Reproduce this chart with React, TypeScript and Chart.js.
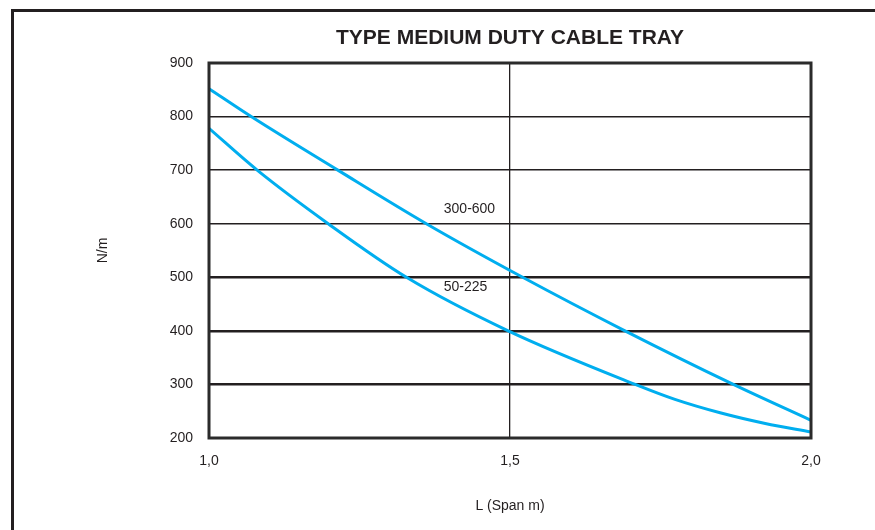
import React, { useEffect, useRef } from "react";
import { Chart, registerables } from "chart.js";

Chart.register(...registerables);

const chartTitle = "TYPE MEDIUM DUTY CABLE TRAY";
const xAxisTitle = "L (Span m)";
const yAxisTitle = "N/m";

const seriesNames = ["300-600", "50-225"];
const spanUpper = [1.0, 1.07, 1.214, 1.361, 1.521, 1.691, 1.871, 2.0];
const loadUpper = [852, 800, 700, 600, 500, 400, 300, 233];
const spanLower = [1.0, 1.08, 1.198, 1.328, 1.497, 1.708, 1.774, 1.849, 1.924, 2.0];
const loadLower = [778, 700, 600, 500, 400, 300, 272, 247, 227, 211];

// label anchor points (data coordinates)
const labelSpans = [1.39, 1.39];
const labelLoads = [627, 481];

const yMin = 200;
const yMax = 900;
const yStep = 100;
const xMin = 1.0;
const xMax = 2.0;
const xStep = 0.5;

const CYAN = "#00aeef";
const INK = "#231f20";
const FONT = "'Liberation Sans', Arial, sans-serif";

export default function App() {
  const ref = useRef<HTMLCanvasElement | null>(null);

  useEffect(() => {
    const canvas = ref.current;
    if (!canvas) return;

    const overlay = {
      id: "overlay",
      afterDatasetsDraw(chart: any) {
        const { ctx, chartArea: a, scales } = chart;
        ctx.save();
        ctx.strokeStyle = "#2b2b2b";
        ctx.lineWidth = 3;
        ctx.strokeRect(a.left, a.top, a.right - a.left, a.bottom - a.top);
        ctx.fillStyle = INK;
        ctx.font = `14px ${FONT}`;
        ctx.textAlign = "left";
        ctx.textBaseline = "middle";
        seriesNames.forEach((name, i) => {
          const x = scales.x.getPixelForValue(labelSpans[i]);
          const y = scales.y.getPixelForValue(labelLoads[i]);
          ctx.fillText(name, x, y);
        });
        ctx.font = `bold 21px ${FONT}`;
        ctx.textAlign = "center";
        ctx.fillText(chartTitle, (a.left + a.right) / 2, 38);
        ctx.restore();
      },
    };

    const chart = new Chart(canvas, {
      type: "line",
      data: {
        datasets: [
          {
            label: seriesNames[0],
            data: spanUpper.map((x, i) => ({ x, y: loadUpper[i] })),
            borderColor: CYAN,
            borderWidth: 3,
            pointRadius: 0,
            cubicInterpolationMode: "monotone",
            fill: false,
          },
          {
            label: seriesNames[1],
            data: spanLower.map((x, i) => ({ x, y: loadLower[i] })),
            borderColor: CYAN,
            borderWidth: 3,
            pointRadius: 0,
            cubicInterpolationMode: "monotone",
            fill: false,
          },
        ],
      },
      options: {
        animation: false,
        responsive: false,
        devicePixelRatio: 1,
        layout: { padding: { left: 0, top: 63, right: 64, bottom: 0 } },
        plugins: {
          legend: { display: false },
          tooltip: { enabled: false },
          title: { display: false },
        },
        scales: {
          x: {
            type: "linear",
            min: xMin,
            max: xMax,
            border: { display: false },
            grid: {
              drawTicks: false,
              color: INK,
              lineWidth: (c: any) => (c.tick && Math.abs(c.tick.value - 1.5) < 1e-6 ? 1.3 : 0),
            },
            ticks: {
              stepSize: xStep,
              padding: 15,
              color: INK,
              font: { family: FONT, size: 14 },
              maxRotation: 0,
              autoSkip: false,
              callback: (v: any) => Number(v).toFixed(1).replace(".", ","),
            },
            title: {
              display: true,
              text: xAxisTitle,
              color: INK,
              font: { family: FONT, size: 14 },
              padding: { top: 0, bottom: 15 },
            },
            afterFit: (s: any) => {
              s.height = 92;
            },
          },
          y: {
            min: yMin,
            max: yMax,
            border: { display: false },
            grid: {
              drawTicks: false,
              color: INK,
              lineWidth: (c: any) => {
                const v = c.tick ? c.tick.value : 0;
                if (v === yMin || v === yMax) return 0;
                return v >= 300 && v <= 500 ? 2.5 : 1.6;
              },
            },
            ticks: {
              stepSize: yStep,
              padding: 16,
              color: INK,
              font: { family: FONT, size: 14 },
            },
            title: {
              display: true,
              text: yAxisTitle,
              color: INK,
              font: { family: FONT, size: 14 },
              padding: { top: 95, bottom: 0 },
            },
            afterFit: (s: any) => {
              s.width = 209;
            },
          },
        },
      },
      plugins: [overlay],
    } as any);

    return () => chart.destroy();
  }, []);

  return (
    <div
      style={{
        position: "fixed",
        left: 0,
        top: 0,
        width: 875,
        height: 530,
        overflow: "hidden",
        background: "#fff",
      }}
    >
      <div
        style={{
          position: "absolute",
          left: 11,
          top: 9,
          width: 900,
          height: 600,
          borderTop: `3px solid ${INK}`,
          borderLeft: `3px solid ${INK}`,
        }}
      />
      <canvas
        ref={ref}
        width={875}
        height={530}
        style={{ position: "absolute", left: 0, top: 0, width: 875, height: 530 }}
      />
    </div>
  );
}
